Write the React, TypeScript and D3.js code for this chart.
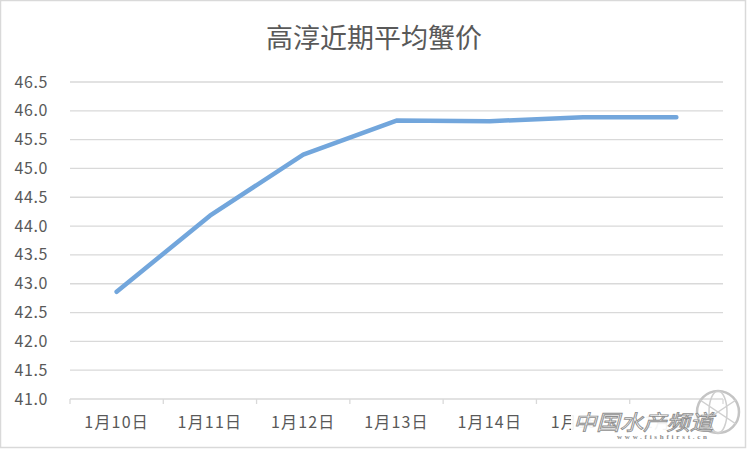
import React from "react";
import * as d3 from "d3";

const categories = ["1月10日", "1月11日", "1月12日", "1月13日", "1月14日", "1月15日", "1月16日"];
const prices = [42.86, 44.18, 45.24, 45.83, 45.82, 45.89, 45.89];
const yTicks = [41.0, 41.5, 42.0, 42.5, 43.0, 43.5, 44.0, 44.5, 45.0, 45.5, 46.0, 46.5];
const title = "高淳近期平均蟹价";

const W = 747;
const H = 449;
const left = 70;
const right = 723;
const top = 82;
const bottom = 399;

export default function App() {
  const x = d3.scaleBand<string>().domain(categories).range([left, right]).padding(0);
  const y = d3.scaleLinear().domain([41, 46.5]).range([bottom, top]);
  const line = d3
    .line<number>()
    .x((_, i) => (x(categories[i]) as number) + x.bandwidth() / 2)
    .y((d) => y(d));
  const font = "'Noto Sans CJK SC', 'Microsoft YaHei', sans-serif";
  const tickXs = categories.map((c) => x(c) as number).concat([right]);

  return (
    <svg width={W} height={H} style={{ position: "absolute", left: 0, top: 0, background: "#fff" }}>
      <rect x={0.5} y={0.5} width={W - 2} height={H - 2} fill="#fff" stroke="#d9d9d9" strokeWidth={1.5} />
      <text x={374} y={48} textAnchor="middle" fontFamily={font} fontSize={27} fill="#595959">
        {title}
      </text>
      {yTicks.map((t) => (
        <g key={t}>
          {t > 41 && (
            <line x1={left} x2={right} y1={y(t)} y2={y(t)} stroke="#d9d9d9" strokeWidth={1.3} />
          )}
          <text
            x={48}
            y={y(t) + 5.5}
            textAnchor="end"
            fontFamily={font}
            fontSize={16}
            letterSpacing={0.6}
            fill="#595959"
          >
            {t.toFixed(1)}
          </text>
        </g>
      ))}
      <line x1={left} x2={right} y1={bottom} y2={bottom} stroke="#d9d9d9" strokeWidth={1.3} />
      {tickXs.map((tx, i) => (
        <line key={i} x1={tx} x2={tx} y1={bottom} y2={bottom + 5} stroke="#d9d9d9" strokeWidth={1.3} />
      ))}
      {categories.map((c) => (
        <text
          key={c}
          x={(x(c) as number) + x.bandwidth() / 2}
          y={428}
          textAnchor="middle"
          fontFamily={font}
          fontSize={16}
          letterSpacing={1.2}
          fill="#595959"
        >
          {c}
        </text>
      ))}
      <path
        d={line(prices) || ""}
        fill="none"
        stroke="#72a6dc"
        strokeWidth={4.5}
        strokeLinecap="round"
        strokeLinejoin="round"
      />
      {/* watermark */}
      <g>
        <rect x={571} y={405} width={172} height={38} fill="#fff" opacity={0.93} />
        <circle cx={718} cy={412} r={21} fill="none" stroke="#c4c4c4" strokeWidth={2.5} />
        <ellipse cx={718} cy={412} rx={9} ry={21} fill="none" stroke="#cfcfcf" strokeWidth={1.5} />
        <path d="M700,400 Q718,412 736,424" fill="none" stroke="#cfcfcf" strokeWidth={1.5} />
        <path d="M700,424 Q718,412 736,400" fill="none" stroke="#cfcfcf" strokeWidth={1.5} />
        <text
          x={573}
          y={430}
          fontFamily={font}
          fontSize={21}
          fontStyle="italic"
          textLength={140}
          lengthAdjust="spacingAndGlyphs"
          fill="#fff"
          stroke="#8f8f8f"
          strokeWidth={0.9}
        >
          中国水产频道
        </text>
        <text
          x={617}
          y={439}
          fontFamily="serif"
          fontSize={7}
          textLength={90}
          fill="#8a8a8a"
          fontWeight="bold"
        >
          www.fishfirst.cn
        </text>
      </g>
    </svg>
  );
}
